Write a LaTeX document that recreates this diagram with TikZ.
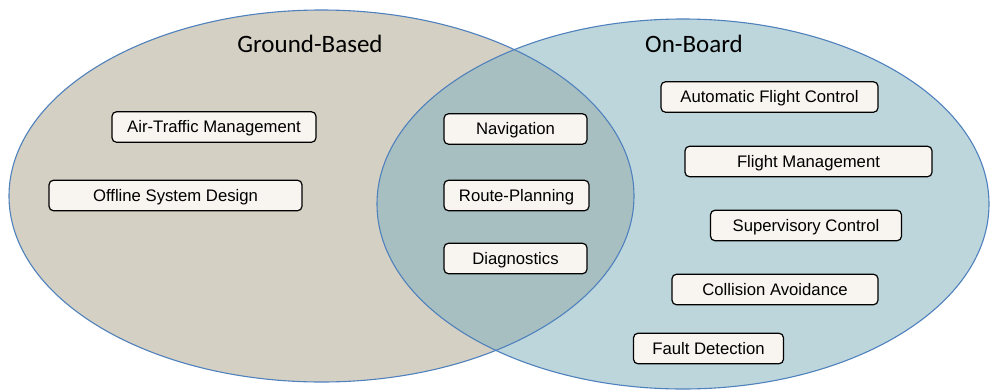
\documentclass[tikz,border=0pt]{standalone}
\usepackage{fontspec}
\setmainfont{Liberation Sans}
\newfontfamily\titlefont{Carlito}
\begin{document}
\begin{tikzpicture}[x=1pt,y=-1pt,
  setline/.style={draw=setblue,line width=1.1pt},
  item/.style={draw=black,line width=1.2pt,fill=boxfill,rounded corners=4.5pt,
    minimum height=30.5pt,inner sep=0pt,text height=11pt,text depth=0pt,
    font=\fontsize{16.7}{18}\selectfont},
  settitle/.style={anchor=base,font=\titlefont\fontsize{25}{28}\selectfont}]
\definecolor{setblue}{RGB}{79,129,189}
\definecolor{groundfill}{RGB}{212,208,195}
\definecolor{boardfill}{RGB}{189,214,220}
\definecolor{bothfill}{RGB}{168,191,194}
\definecolor{boxfill}{RGB}{248,244,239}
\useasboundingbox (0,0) rectangle (991,389);

% the two sets
\fill[groundfill] (321.5,196) ellipse [x radius=312.5,y radius=186];
\fill[boardfill] (683,204) ellipse [x radius=306,y radius=185];
\begin{scope}
  \clip (321.5,196) ellipse [x radius=312.5,y radius=186];
  \fill[bothfill] (683,204) ellipse [x radius=306,y radius=185];
\end{scope}
\draw[setline] (321.5,196) ellipse [x radius=312.5,y radius=186];
\draw[setline] (683,204) ellipse [x radius=306,y radius=185];

% set titles
\node[settitle] (ground) at (310,52) {Ground-Based};
\node[settitle] (board) at (694,52) {On-Board};

% ground-based only
\node[item,minimum width=204pt] (atm) at (214,127) {Air-Traffic Management};
\node[item,minimum width=253pt] (osd) at (175.5,195.5) {Offline System Design};

% shared
\node[item,minimum width=143pt] (nav) at (515.5,129) {Navigation};
\node[item,minimum width=145pt] (rp) at (516.5,195.5) {Route-Planning};
\node[item,minimum width=143pt] (diag) at (515.5,258.5) {Diagnostics};

% on-board only
\node[item,minimum width=217pt] (afc) at (769.5,97) {Automatic Flight Control};
\node[item,minimum width=247pt] (fm) at (808.5,161.5) {Flight Management};
\node[item,minimum width=191pt] (sc) at (806,225.5) {Supervisory Control};
\node[item,minimum width=206pt] (ca) at (775,289.5) {Collision Avoidance};
\node[item,minimum width=150pt] (fd) at (708.5,348.5) {Fault Detection};
\end{tikzpicture}
\end{document}
